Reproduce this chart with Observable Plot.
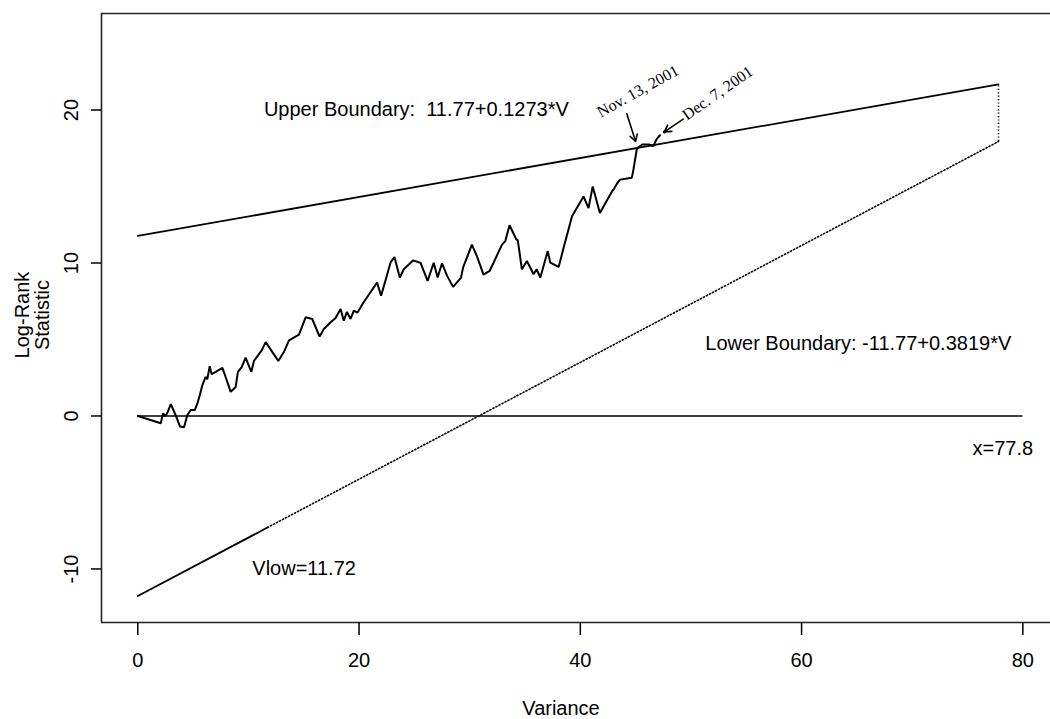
<!DOCTYPE html>
<html>
<head>
<meta charset="utf-8">
<script src="https://cdn.jsdelivr.net/npm/d3@7"></script>
<script src="https://cdn.jsdelivr.net/npm/@observablehq/plot@0.6"></script>
<style>
  html, body { margin: 0; padding: 0; background: white; }
  #chart svg { display: block; }
</style>
</head>
<body>
<div id="chart"></div>
<script>
// Cumulative log-rank statistic plotted against its variance
const variance = [
  0, 2.08, 2.28, 2.5, 2.7, 2.98, 3.28, 3.45, 3.82, 4.18, 4.48, 4.79, 5.15, 5.39, 5.6, 5.83,
  6.13, 6.28, 6.5, 6.68, 7.04, 7.65, 7.94, 8.4, 8.85, 9.05, 9.39, 9.75, 9.96, 10.26, 10.5,
  11.2, 11.56, 12.7, 13.2, 13.67, 14.57, 15.17, 15.77, 16.43, 16.82, 17.43, 17.88, 18.33,
  18.62, 18.9, 19.23, 19.53, 19.85, 20.4, 21.63, 21.99, 22.38, 22.84, 23.2, 23.68, 24.04,
  24.88, 25.4, 25.55, 26.2, 26.75, 27.1, 27.5, 27.96, 28.5, 29.22, 29.4, 30.2, 30.65, 31.25,
  31.8, 32.16, 32.92, 33.22, 33.6, 34.22, 34.35, 34.72, 35.17, 35.78, 36.05, 36.39, 37.05,
  37.29, 38.04, 38.49, 39.25, 40.29, 40.74, 41.12, 41.77, 42.86, 43.05, 43.35, 43.6, 44.66,
  44.8, 45.12, 45.6, 46.2, 46.6, 46.9, 47.2
];
const logRank = [
  0, -0.47, 0.17, 0.0, 0.25, 0.78, 0.28, 0.0, -0.69, -0.73, 0.06, 0.39, 0.39, 0.82, 1.36, 2.0,
  2.55, 2.4, 3.25, 2.73, 2.88, 3.14, 2.55, 1.58, 1.9, 2.88, 3.2, 3.81, 3.42, 2.88, 3.6,
  4.29, 4.83, 3.6, 4.18, 4.94, 5.32, 6.45, 6.34, 5.19, 5.69, 6.13, 6.41, 6.99,
  6.23, 6.8, 6.34, 6.88, 6.75, 7.42, 8.72, 7.86, 8.83, 10.02, 10.39, 9.05, 9.59,
  10.17, 10.05, 10.02, 8.83, 10.02, 9.05, 9.98, 9.16, 8.44, 9.05, 9.7, 11.2, 10.45, 9.24,
  9.48, 10.02, 11.2, 11.43, 12.47, 11.54, 11.48, 9.59, 10.13, 9.26, 9.59, 9.05, 10.78,
  10.02, 9.74, 10.99, 13.05, 14.35, 13.59, 15.0, 13.27, 14.68, 14.85, 15.23, 15.45, 15.58,
  16.1, 17.5, 17.75, 17.75, 17.65, 18.1, 18.35
];

// Stopping boundaries of the sequential test
const upperIntercept = 11.77, upperSlope = 0.1273;
const lowerIntercept = -11.77, lowerSlope = 0.3819;
const vLow = 11.72;   // variance at which the lower boundary becomes active
const vMax = 77.8;    // maximum variance

// Dated events along the path
const eventNames = ["Nov. 13, 2001", "Dec. 7, 2001"];
const eventVariance = [45.0, 47.6];
const eventStat = [17.95, 18.57];

const xTicks = [0, 20, 40, 60, 80];
const yTicks = [-10, 0, 10, 20];
const yTitleLines = ["Log-Rank", "Statistic"];
const xDomain = [-3.28, 82.5];
const yDomain = [-13.5, 26.31];

const path = variance.map((v, i) => ({v, s: logRank[i]}));
const upper = v => upperIntercept + upperSlope * v;
const lower = v => lowerIntercept + lowerSlope * v;
const upperLine = [0, vMax].map(v => ({v, s: upper(v)}));
const lowerSolid = [0, vLow].map(v => ({v, s: lower(v)}));
const lowerDotted = [vLow, vMax].map(v => ({v, s: lower(v)}));

const events = eventNames.map((name, i) => ({name, v: eventVariance[i], s: eventStat[i]}));
// arrow tails, in data units
const tails = [{v: 44.2, s: 19.75}, {v: 49.3, s: 19.4}];

const serif = "'Liberation Serif', 'Times New Roman', serif";
const dotted = "1.2 2.2";

const chart = Plot.plot({
  width: 1050,
  height: 719,
  marginLeft: 101,
  marginRight: 0,
  marginTop: 13,
  marginBottom: 97,
  x: {domain: xDomain},
  y: {domain: yDomain},
  style: {
    fontFamily: "'Liberation Sans', Arial, sans-serif",
    fontSize: "20px",
    background: "white",
    color: "black"
  },
  marks: [
    // plot box (top, left, bottom)
    Plot.ruleY([yDomain[1]], {x1: xDomain[0], x2: xDomain[1], stroke: "#222", strokeWidth: 1.6}),
    Plot.ruleY([yDomain[0]], {x1: xDomain[0], x2: xDomain[1], stroke: "#222", strokeWidth: 1.6}),
    Plot.ruleX([xDomain[0]], {y1: yDomain[0], y2: yDomain[1], stroke: "#222", strokeWidth: 1.6}),

    Plot.axisX({ticks: xTicks, tickSize: 13, tickPadding: 17, fontSize: 20, label: null, strokeWidth: 1.5}),
    Plot.axisY({ticks: yTicks, tickSize: 10, tickPadding: 14, tickRotate: -90, fontSize: 20,
      label: null, strokeWidth: 1.5, tickFormat: d => String(d)}),

    // axis titles
    Plot.text(["Variance"], {frameAnchor: "bottom", dy: 92, dx: -15, fontSize: 20}),
    Plot.text(yTitleLines, {
      frameAnchor: "left",
      y: () => 6.6,
      text: d => d,
      dx: -79,
      rotate: -90,
      fontSize: 20,
      textAnchor: "middle",
      lineAnchor: "middle",
      filter: (d, i) => i === 0
    }),
    Plot.text(yTitleLines, {
      frameAnchor: "left",
      y: () => 6.6,
      text: d => d,
      dx: -59,
      rotate: -90,
      fontSize: 20,
      textAnchor: "middle",
      lineAnchor: "middle",
      filter: (d, i) => i === 1
    }),

    // zero reference line
    Plot.ruleY([0], {x1: 0, x2: 80, stroke: "black", strokeWidth: 1.6}),

    // boundaries
    Plot.line(upperLine, {x: "v", y: "s", stroke: "black", strokeWidth: 1.8}),
    Plot.line(lowerSolid, {x: "v", y: "s", stroke: "black", strokeWidth: 1.8}),
    Plot.line(lowerDotted, {x: "v", y: "s", stroke: "black", strokeWidth: 1.6,
      strokeDasharray: dotted}),
    Plot.ruleX([vMax], {y1: lower(vMax), y2: upper(vMax), stroke: "black", strokeWidth: 1.6,
      strokeDasharray: dotted}),

    // log-rank statistic path
    Plot.line(path, {x: "v", y: "s", stroke: "black", strokeWidth: 2, strokeLinejoin: "miter"}),

    // annotations
    Plot.text(["Upper Boundary:\u00a0 11.77+0.1273*V"], {x: 11.4, y: 20.0, textAnchor: "start", fontSize: 20}),
    Plot.text(["Lower Boundary: -11.77+0.3819*V"], {x: 51.3, y: 4.75, textAnchor: "start", fontSize: 20}),
    Plot.text(["x=77.8"], {x: 75.45, y: -2.1, textAnchor: "start", fontSize: 20}),
    Plot.text(["Vlow=11.72"], {x: 10.35, y: -10.0, textAnchor: "start", fontSize: 20}),

    Plot.arrow(events, {
      x1: (d, i) => tails[i].v, y1: (d, i) => tails[i].s,
      x2: "v", y2: "s", stroke: "black", strokeWidth: 1.6, headLength: 7
    }),
    Plot.text(events, {
      x: (d, i) => [41.85, 49.65][i],
      y: (d, i) => [19.5, 19.3][i],
      text: "name",
      rotate: (d, i) => [-29, -35][i],
      textAnchor: "start",
      lineAnchor: "bottom",
      fontFamily: serif,
      fontSize: 16
    }),
    Plot.dot(events.slice(1), {x: "v", y: "s", r: 1.6, fill: "black"})
  ]
});

document.getElementById("chart").appendChild(chart);
</script>
</body>
</html>
